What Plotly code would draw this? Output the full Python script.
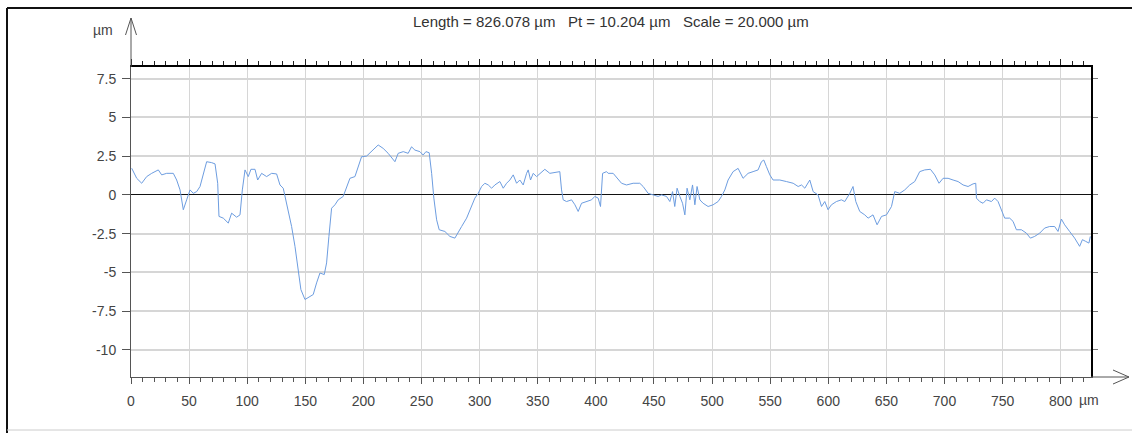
import plotly.graph_objects as go

# ---------------- data ----------------
x_um = [0.6, 4.9, 9.2, 13.5, 17.8, 23.5, 26.4, 30.7, 36.4, 39.3, 42.2, 45.0, 47.9, 50.8, 53.6,
        56.5, 59.4, 62.2, 65.1, 69.4, 72.3, 74.6, 75.7, 79.4, 83.7, 86.6, 90.9, 93.8, 95.8,
        98.1, 100.9, 103.2, 106.7, 109.0, 112.4, 116.7, 121.0, 125.3, 128.2, 131.0, 135.3,
        138.2, 141.1, 143.9, 146.2, 149.7, 154.0, 156.8, 159.7, 162.6, 166.3, 168.3, 170.3,
        172.6, 175.5, 178.3, 182.6, 185.5, 188.4, 192.7, 195.5, 198.4, 202.7, 207.0, 212.7,
        217.0, 221.3, 227.1, 229.9, 234.3, 238.5, 241.4, 244.3, 248.6, 251.4, 253.8, 256.6,
        258.7, 260.6, 263.0, 265.2, 270.1, 274.4, 278.7, 281.5, 284.5, 288.8, 293.1, 295.9,
        298.8, 301.7, 304.5, 307.4, 310.3, 313.1, 317.4, 320.3, 323.2, 326.0, 328.9, 331.8,
        334.6, 337.5, 340.4, 341.8, 343.8, 346.1, 349.0, 351.8, 356.1, 360.4, 364.7, 369.0,
        370.5, 371.9, 374.8, 379.1, 382.0, 384.8, 387.7, 392.0, 396.3, 399.1, 402.0, 404.0,
        405.8, 409.2, 410.6, 414.9, 419.2, 422.1, 426.4, 432.1, 437.8, 440.7, 445.0, 449.3,
        453.6, 456.5, 460.8, 463.7, 466.0, 467.9, 469.9, 472.3, 474.6, 476.6, 478.5, 480.9,
        483.2, 485.2, 487.1, 489.5, 492.3, 496.6, 500.9, 505.2, 508.1, 511.0, 513.8, 518.1,
        522.4, 526.7, 531.0, 535.3, 539.6, 542.5, 544.5, 546.8, 549.7, 552.5, 558.3, 564.0,
        569.8, 574.1, 577.0, 579.8, 582.6, 584.1, 587.0, 591.2, 594.2, 597.0, 599.8, 602.7,
        607.0, 611.3, 614.2, 618.5, 621.3, 623.7, 627.1, 631.4, 634.3, 638.5, 642.0, 645.8,
        650.1, 654.4, 657.2, 661.5, 665.8, 670.1, 674.4, 678.7, 683.0, 687.9, 691.6, 695.3,
        698.8, 703.1, 707.4, 711.7, 716.0, 720.3, 724.6, 726.9, 727.5, 730.3, 733.2, 736.1,
        740.4, 743.2, 746.1, 749.0, 751.8, 756.1, 759.0, 761.9, 766.2, 770.5, 773.9, 777.6,
        781.9, 786.2, 790.5, 794.8, 797.7, 800.6, 803.4, 807.7, 812.0, 816.3, 818.7, 821.5,
        824.3, 825.5]
z_um = [1.72, 1.07, 0.75, 1.18, 1.39, 1.61, 1.29, 1.39, 1.39, 0.96, 0.32, -0.96, -0.32, 0.32, 0.10,
        0.21, 0.54, 1.39, 2.14, 2.08, 2.00, 0.75, -1.39, -1.50, -1.82, -1.18, -1.44, -1.29, 0.32,
        1.61, 1.18, 1.65, 1.65, 0.96, 1.39, 1.18, 1.39, 1.35, 0.64, 0.43, -0.96,
        -2.04, -3.32, -4.82, -6.11, -6.75, -6.54, -6.43, -5.68, -5.04, -5.14, -4.39, -2.68,
        -0.86, -0.64, -0.32, -0.10, 0.54, 1.07, 1.18, 1.82, 2.46, 2.50, 2.80, 3.22,
        3.00, 2.68, 2.14, 2.68, 2.79, 2.68, 3.10, 2.89, 2.79, 2.57, 2.79, 2.72,
        1.39, -0.21, -1.61, -2.25, -2.36, -2.68, -2.79, -2.47, -2.04, -1.50, -0.75, -0.21,
        0.10, 0.54, 0.75, 0.64, 0.43, 0.64, 0.86, 0.43, 0.75, 0.96, 1.29, 0.75,
        0.96, 0.64, 1.39, 1.61, 0.96, 1.39, 1.18, 1.39, 1.65, 1.39, 1.43, 1.50,
        0.32, -0.32, -0.43, -0.32, -0.64, -1.07, -0.54, -0.43, -0.32, -0.10, -0.21, -0.75,
        1.39, 1.50, 1.39, 1.39, 0.96, 0.75, 0.64, 0.75, 0.75, 0.54, 0.10, 0.00,
        -0.10, 0.00, -0.10, -0.43, 0.21, -0.75, 0.43, -0.10, -0.54, -1.29, 0.43, -0.32,
        0.64, -0.64, 0.54, -0.32, -0.54, -0.75, -0.64, -0.43, -0.10, 0.32, 0.96, 1.50,
        1.71, 1.07, 1.39, 1.50, 1.61, 2.14, 2.25, 1.82, 1.29, 0.96, 0.96, 0.86,
        0.75, 0.54, 0.64, 0.43, 0.75, 0.96, 0.21, 0.00, -0.75, -0.43, -0.96, -0.64,
        -0.43, -0.32, -0.43, 0.10, 0.54, -0.43, -1.07, -1.29, -1.50, -1.29, -1.93, -1.39,
        -1.29, -0.75, 0.21, 0.10, 0.32, 0.64, 0.86, 1.50, 1.61, 1.65, 1.29, 0.75,
        1.07, 1.07, 0.96, 0.86, 0.64, 0.54, 0.71, 0.75, -0.21, -0.43, -0.54, -0.32,
        -0.43, -0.21, -0.43, -0.96, -1.50, -1.50, -1.71, -2.25, -2.25, -2.47, -2.79, -2.68,
        -2.47, -2.14, -2.04, -2.04, -2.36, -1.56, -1.93, -2.36, -2.79, -3.32, -2.89, -3.00,
        -3.11, -2.68]

x_ticks = [0, 50, 100, 150, 200, 250, 300, 350, 400, 450, 500, 550, 600, 650, 700, 750, 800]
x_tick_text = ["0", "50", "100", "150", "200", "250", "300", "350", "400", "450", "500",
               "550", "600", "650", "700", "750", "800"]
y_ticks = [-10, -7.5, -5, -2.5, 0, 2.5, 5, 7.5]
y_tick_text = ["-10", "-7.5", "-5", "-2.5", "0", "2.5", "5", "7.5"]

length_um = 826.078
pt_um = 10.204
scale_um = 20.000
z_top = 8.25
z_bottom = z_top - scale_um
unit = "µm"

# ---------------- layout geometry ----------------
W, H = 1132, 433
ML, MR, MT, MB = 131, 41, 67, 56
PW, PH = W - ML - MR, H - MT - MB


def px(x):
    return (x - ML) / PW


def py(y):
    return (H - MB - y) / PH


FONT = "Liberation Sans, Arial, sans-serif"
TXT = "#444444"
GRID = "#d6d6d6"

fig = go.Figure()
fig.add_trace(go.Scatter(x=x_um, y=z_um, mode="lines",
                         line=dict(color="#6d9de0", width=1),
                         hoverinfo="skip", showlegend=False))
# invisible copy to host the top / right frame axes
fig.add_trace(go.Scatter(x=x_um, y=z_um, mode="lines", xaxis="x2", yaxis="y2",
                         line=dict(color="rgba(0,0,0,0)", width=0),
                         hoverinfo="skip", showlegend=False))

nb = "\u00a0"
gap = nb * 3
title = (f"Length = {length_um:.3f} {unit}{gap}Pt = {pt_um:.3f} {unit}"
         f"{gap}Scale = {scale_um:.3f} {unit}")

fig.update_layout(
    width=W, height=H, autosize=False,
    margin=dict(l=ML, r=MR, t=MT, b=MB, pad=0),
    paper_bgcolor="white", plot_bgcolor="white",
    font=dict(family=FONT, size=14, color=TXT),
    showlegend=False,
    xaxis=dict(range=[0, length_um], tickmode="array", tickvals=x_ticks, ticktext=x_tick_text,
               showgrid=True, gridcolor=GRID, gridwidth=1, zeroline=False,
               showline=True, linecolor="#555555", linewidth=1,
               ticks="outside", ticklen=6, tickcolor="#555555", tickwidth=1,
               ticklabelstandoff=5,
               minor=dict(dtick=10, tick0=0, ticks="outside", ticklen=4, tickcolor="#555555",
                          showgrid=False),
               tickfont=dict(family=FONT, size=14, color=TXT), fixedrange=True),
    yaxis=dict(range=[z_bottom, z_top], tickmode="array", tickvals=y_ticks, ticktext=y_tick_text,
               showgrid=True, gridcolor=GRID, gridwidth=1.5,
               zeroline=True, zerolinecolor="#111111", zerolinewidth=1.3,
               showline=True, linecolor="#555555", linewidth=1,
               ticks="outside", ticklen=8, tickcolor="#555555", ticklabelstandoff=3,
               tickfont=dict(family=FONT, size=14, color=TXT), fixedrange=True),
    xaxis2=dict(range=[0, length_um], overlaying="x", side="top", anchor="y2",
                tickmode="array", tickvals=x_ticks, showticklabels=False,
                showgrid=False, zeroline=False,
                showline=True, linecolor="#000000", linewidth=2,
                ticks="outside", ticklen=6, tickcolor="#222222", tickwidth=1,
                minor=dict(dtick=10, tick0=0, ticks="outside", ticklen=4, tickcolor="#222222",
                           showgrid=False),
                fixedrange=True),
    yaxis2=dict(range=[z_bottom, z_top], overlaying="y", side="right", anchor="x2",
                tickmode="array", tickvals=y_ticks, showticklabels=False,
                showgrid=False, zeroline=False,
                showline=True, linecolor="#000000", linewidth=2,
                ticks="outside", ticklen=5, tickcolor="#777777", fixedrange=True),
)

shapes = [
    # outer frame
    dict(type="line", xref="paper", yref="paper", x0=px(7), y0=py(8), x1=px(W), y1=py(8),
         line=dict(color="#111111", width=2)),
    dict(type="line", xref="paper", yref="paper", x0=px(7), y0=py(8), x1=px(7), y1=py(H),
         line=dict(color="#111111", width=2)),
    dict(type="line", xref="paper", yref="paper", x0=px(7), y0=py(430), x1=px(W), y1=py(430),
         line=dict(color="#cccccc", width=1)),
    # y axis extension + open arrow
    dict(type="line", xref="paper", yref="paper", x0=0, y0=1, x1=0, y1=py(18),
         line=dict(color="#555555", width=1)),
    dict(type="path", xref="paper", yref="paper",
         path=f"M {px(125.5)} {py(35)} L {px(131)} {py(18)} L {px(136.5)} {py(35)}",
         line=dict(color="#555555", width=1)),
    # x axis extension + open arrow
    dict(type="line", xref="paper", yref="paper", x0=1, y0=0, x1=px(1129), y1=0,
         line=dict(color="#555555", width=1)),
    dict(type="path", xref="paper", yref="paper",
         path=f"M {px(1113)} {py(370)} L {px(1129)} {py(377)} L {px(1113)} {py(384)}",
         line=dict(color="#555555", width=1)),
]
fig.update_layout(shapes=shapes)

fig.update_layout(annotations=[
    dict(text=title, xref="paper", yref="paper", x=0.5, y=py(22), xanchor="center",
         yanchor="middle", showarrow=False, font=dict(family=FONT, size=15, color="#333333")),
    dict(text=unit, xref="paper", yref="paper", x=px(103), y=py(30), xanchor="center",
         yanchor="middle", showarrow=False, font=dict(family=FONT, size=14, color=TXT)),
    dict(text=unit, xref="paper", yref="paper", x=px(1089), y=py(400), xanchor="center",
         yanchor="middle", showarrow=False, font=dict(family=FONT, size=14, color=TXT)),
])

fig.write_html("out.html", config={"displayModeBar": False},
               post_script="document.body.style.margin='0';document.body.style.overflow='hidden';")
